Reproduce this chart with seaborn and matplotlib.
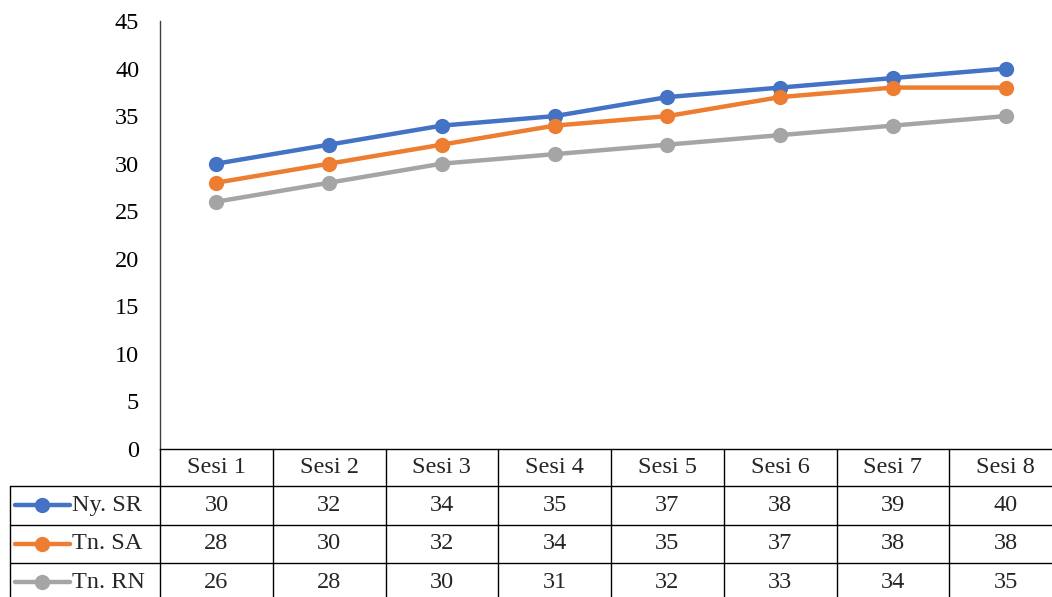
import matplotlib
matplotlib.use("Agg")
import matplotlib.pyplot as plt
import matplotlib.transforms as mtransforms
import seaborn as sns
import pandas as pd
from matplotlib.lines import Line2D

sessions = ["Sesi 1", "Sesi 2", "Sesi 3", "Sesi 4", "Sesi 5", "Sesi 6", "Sesi 7", "Sesi 8"]
series_names = ["Ny. SR", "Tn. SA", "Tn. RN"]
ny_sr = [30, 32, 34, 35, 37, 38, 39, 40]
tn_sa = [28, 30, 32, 34, 35, 37, 38, 38]
tn_rn = [26, 28, 30, 31, 32, 33, 34, 35]
colors = ["#4472C4", "#ED7D31", "#A5A5A5"]
y_ticks = [0, 5, 10, 15, 20, 25, 30, 35, 40, 45]

sns.set_style("white")
plt.rcParams["font.family"] = ["Liberation Serif", "DejaVu Serif"]
FS = 17.5

W, H = 1052, 597
fig = plt.figure(figsize=(W / 100, H / 100), dpi=100)
# plot area extends slightly past the right edge, like the reference crop
AX_L, AX_R, AX_T, AX_B = 160, 1062, 21, 449
ax = fig.add_axes([AX_L / W, 1 - AX_B / H, (AX_R - AX_L) / W, (AX_B - AX_T) / H])

rows = []
for name, vals in zip(series_names, [ny_sr, tn_sa, tn_rn]):
    for i, v in enumerate(vals):
        rows.append({"idx": i, "value": v, "series": name})
df = pd.DataFrame(rows)

sns.lineplot(data=df, x="idx", y="value", hue="series", palette=colors,
             marker="o", markersize=11, markeredgewidth=0, linewidth=3.2,
             legend=False, ax=ax)

ax.set_xlim(-0.5, len(sessions) - 0.5)
ax.set_ylim(0, 45)
ax.set_yticks(y_ticks)
ax.set_yticklabels([str(t) for t in y_ticks], fontsize=FS)
ax.set_xticks([])
ax.set_xlabel("")
ax.set_ylabel("")
ax.tick_params(axis="y", length=0, pad=15, colors="black")
for s in ["top", "right"]:
    ax.spines[s].set_visible(False)
ax.spines["left"].set_color("#404040")
ax.spines["left"].set_linewidth(1.0)
ax.spines["bottom"].set_color("black")
ax.spines["bottom"].set_linewidth(1.0)

# ---- data table (grid in figure pixels, origin top-left) ----
def px(x, y):
    return x / W, 1 - y / H

col_w = (AX_R - AX_L) / len(sessions)
row_edges = [449, 486, 524.5, 563, 601.5]
LBL_L = 10

def hline(y, x0, x1):
    (a, b), (c, d) = px(x0, y), px(x1, y)
    fig.add_artist(Line2D([a, c], [b, d], color="black", lw=1.0, transform=fig.transFigure))

def vline(x, y0, y1):
    (a, b), (c, d) = px(x, y0), px(x, y1)
    fig.add_artist(Line2D([a, c], [b, d], color="black", lw=1.0, transform=fig.transFigure))

for y in row_edges[1:4]:
    hline(y, LBL_L, W + 20)
for k in range(len(sessions) + 1):
    vline(AX_L + k * col_w, row_edges[0], H + 10)
vline(LBL_L, row_edges[1], H + 10)

blend = mtransforms.blended_transform_factory(ax.transData, fig.transFigure)
hy = 1 - (row_edges[0] + row_edges[1]) / 2 / H
for i, s in enumerate(sessions):
    fig.text(0, 0, "")
    ax.text(i, hy, s, transform=blend, ha="center", va="center", fontsize=FS, clip_on=False)

for r, (name, col, vals) in enumerate(zip(series_names, colors, [ny_sr, tn_sa, tn_rn])):
    yc = 1 - (row_edges[r + 1] + row_edges[r + 2]) / 2 / H
    for i, v in enumerate(vals):
        ax.text(i, yc, str(v), transform=blend, ha="center", va="center",
                fontsize=FS, clip_on=False)
    fig.add_artist(Line2D([15 / W, 70 / W], [yc, yc], color=col, lw=3.2,
                          transform=fig.transFigure, solid_capstyle="round"))
    fig.add_artist(Line2D([42 / W], [yc], color=col, marker="o", markersize=11,
                          markeredgewidth=0, transform=fig.transFigure))
    fig.text(72 / W, yc, name, fontsize=FS, ha="left", va="center")

fig.savefig("out.png", dpi=100)
